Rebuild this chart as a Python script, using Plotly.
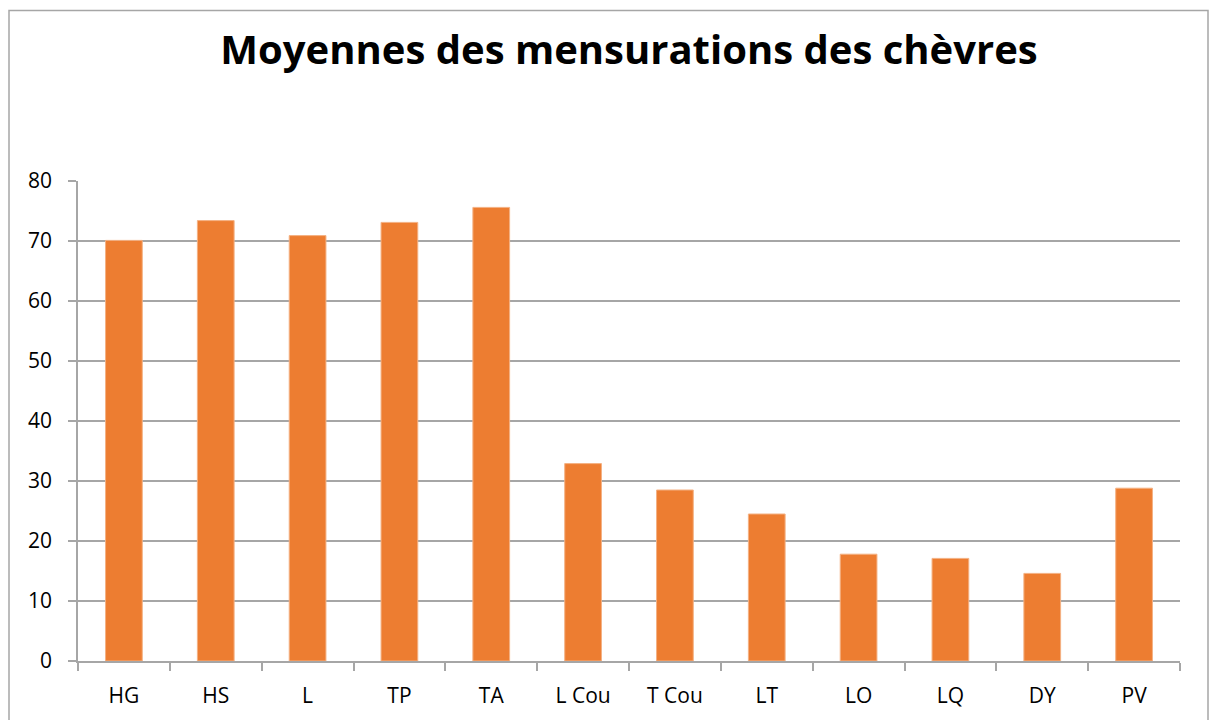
import plotly.graph_objects as go

categories = ["HG", "HS", "L", "TP", "TA", "L Cou", "T Cou", "LT", "LO", "LQ", "DY", "PV"]
values = [70.1, 73.4, 70.9, 73.1, 75.6, 32.9, 28.5, 24.5, 17.8, 17.1, 14.6, 28.8]
y_ticks = [0, 10, 20, 30, 40, 50, 60, 70, 80]
title_text = "Moyennes des mensurations des chèvres"

W, H = 1209, 720
L, R, T, B = 78, 29, 181, 59
pw, ph = W - L - R, H - T - B

grey = "#a6a6a6"
font = "Open Sans"

fig = go.Figure(go.Bar(
    x=categories, y=values,
    marker=dict(color="#ED7D31", line=dict(color="#F4B183", width=1)),
    width=0.4,
))

fig.update_layout(
    width=W, height=H,
    margin=dict(l=L, r=R, t=T, b=B),
    paper_bgcolor="white", plot_bgcolor="white",
    showlegend=False,
    title=dict(text="<b>" + title_text + "</b>", x=0.5, xref="paper", xanchor="center",
               y=1 - 50 / H, yanchor="middle",
               font=dict(family=font, size=40, color="black")),
    font=dict(family=font, color="black"),
    shapes=[dict(type="rect", xref="paper", yref="paper",
                 x0=(9 - L) / pw, x1=(1208 - L) / pw,
                 y0=(H - B - 730) / ph, y1=(H - B - 10.5) / ph,
                 line=dict(color=grey, width=1.5), fillcolor="rgba(0,0,0,0)", layer="below")],
)
fig.update_xaxes(
    type="category", showline=True, linecolor=grey, linewidth=1.5,
    ticks="outside", tickson="boundaries", ticklen=8, tickcolor=grey, tickwidth=1.5,
    tickfont=dict(family=font, size=21, color="black"), ticklabelstandoff=15,
    showgrid=False, zeroline=False,
)
fig.update_yaxes(
    range=[0, 80], tickvals=y_ticks, showline=True, linecolor=grey, linewidth=1.5,
    ticks="outside", ticklen=8, tickcolor=grey, tickwidth=1.5,
    tickfont=dict(family=font, size=21, color="black"), ticklabelstandoff=12,
    showgrid=True, gridcolor=grey, gridwidth=1.5, zeroline=False,
)
fig.write_html("out.html", config=dict(displayModeBar=False),
               post_script="document.body.style.margin='0';document.body.style.overflow='hidden';")
